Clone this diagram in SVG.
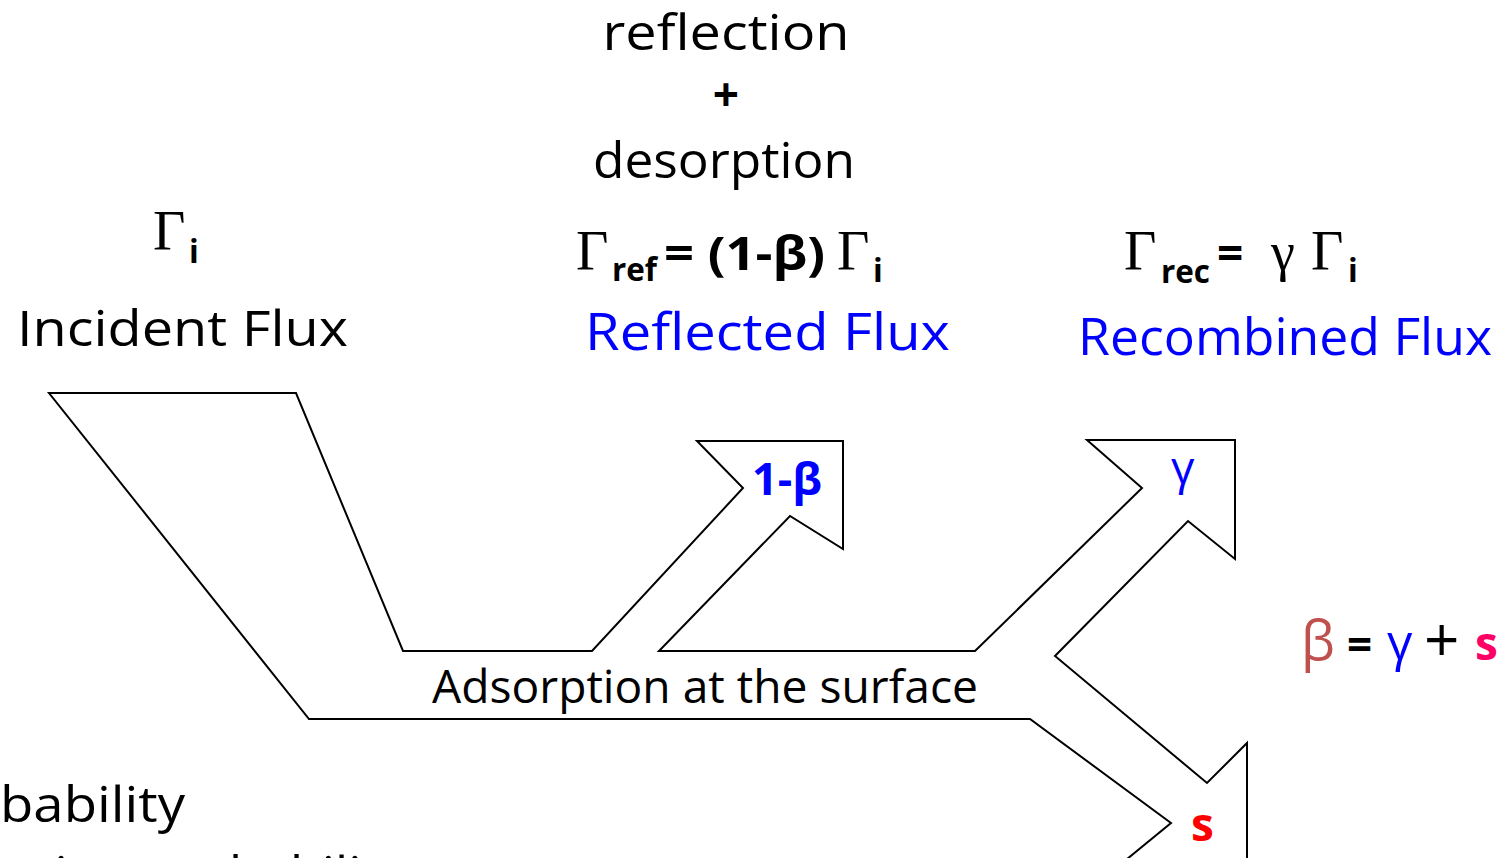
<svg xmlns="http://www.w3.org/2000/svg" width="1508" height="858" viewBox="0 0 1508 858">
<style>
.hand{font-family:"Open Sans","DejaVu Sans",sans-serif;fill:#000}
.blue{fill:#0000ff}
.gam{font-family:"Liberation Serif","DejaVu Serif",serif;fill:#000}
.sub{font-family:"Open Sans","Liberation Sans",sans-serif;font-weight:bold;fill:#000}
.cal{font-family:"Open Sans","Liberation Sans",sans-serif;fill:#000}
.shape{fill:none;stroke:#000;stroke-width:2;stroke-linejoin:miter}
</style>
<rect width="1508" height="858" fill="#fff"/>
<g id="connectors">
<path class="shape" d="M1110,873 L1171,823 L1030,719 L309,719 L49,393 L296,393 L403,651 L592,651 L743,488 L697,441 L843,441 L843,549 L790,516 L659,651 L975,651 L1142,488 L1087,440 L1235,440 L1235,559 L1188,521 L1055,656 L1207,783 L1247,743 L1247,875"/>
</g>
<g id="top-label">
<text class="hand" x="726" y="50" font-size="50" text-anchor="middle" textLength="247" lengthAdjust="spacingAndGlyphs">reflection</text>
<text class="hand" x="726" y="111" font-size="46" font-weight="bold" text-anchor="middle">+</text>
<text class="hand" x="724" y="178" font-size="50" text-anchor="middle" textLength="262" lengthAdjust="spacingAndGlyphs">desorption</text>
</g>
<g id="incident">
<text class="gam" x="153" y="250" font-size="56">Γ</text>
<text class="sub" x="189" y="263" font-size="32">i</text>
<text class="hand" x="17" y="346" font-size="50" textLength="331" lengthAdjust="spacingAndGlyphs">Incident Flux</text>
</g>
<g id="reflected">
<text class="gam" x="576" y="270" font-size="56">Γ</text>
<text class="sub" x="612" y="281" font-size="32" textLength="45" lengthAdjust="spacingAndGlyphs">ref</text>
<text class="sub" x="664" y="270" font-size="46" textLength="161" lengthAdjust="spacingAndGlyphs">= (1-β)</text>
<text class="gam" x="837" y="270" font-size="56">Γ</text>
<text class="sub" x="873" y="282" font-size="32">i</text>
<text class="hand blue" x="585" y="350" font-size="52" textLength="365" lengthAdjust="spacingAndGlyphs">Reflected Flux</text>
</g>
<g id="recombined">
<text class="gam" x="1124" y="270" font-size="56">Γ</text>
<text class="sub" x="1161" y="283" font-size="32" textLength="49" lengthAdjust="spacingAndGlyphs">rec</text>
<text class="sub" x="1217" y="270" font-size="46">=</text>
<text class="gam" x="1271" y="270" font-size="54">γ</text>
<text class="gam" x="1311" y="270" font-size="56">Γ</text>
<text class="sub" x="1348" y="282" font-size="32">i</text>
<text class="hand blue" x="1078" y="355" font-size="52" textLength="414" lengthAdjust="spacingAndGlyphs">Recombined Flux</text>
</g>
<g id="arrow-labels">
<text class="sub" x="752" y="495" font-size="44" style="fill:#0000ff" textLength="70" lengthAdjust="spacingAndGlyphs">1-β</text>
<text class="cal" x="1171" y="484" font-size="46" style="fill:#0000ff">γ</text>
<text class="sub" x="1191" y="841" font-size="46" style="fill:#ff0000">s</text>
</g>
<g id="adsorption">
<text class="cal" x="432" y="703" font-size="46" textLength="546" lengthAdjust="spacingAndGlyphs">Adsorption at the surface</text>
</g>
<g id="equation">
<text class="cal" x="1301" y="660" font-size="54" style="fill:#c0504d">β</text>
<text class="sub" x="1347" y="660" font-size="44">=</text>
<text class="cal" x="1387" y="660" font-size="50" style="fill:#0000ff">γ</text>
<text class="cal" x="1424" y="662" font-size="62">+</text>
<text class="sub" x="1475" y="660" font-size="46" style="fill:#ff0066">s</text>
</g>
<g id="bottom-text">
<text class="hand" x="0" y="822" font-size="50" textLength="185" lengthAdjust="spacingAndGlyphs">bability</text>
<text class="hand" x="36" y="892" font-size="50" textLength="370" lengthAdjust="spacingAndGlyphs">tion probability</text>
</g>
</svg>
